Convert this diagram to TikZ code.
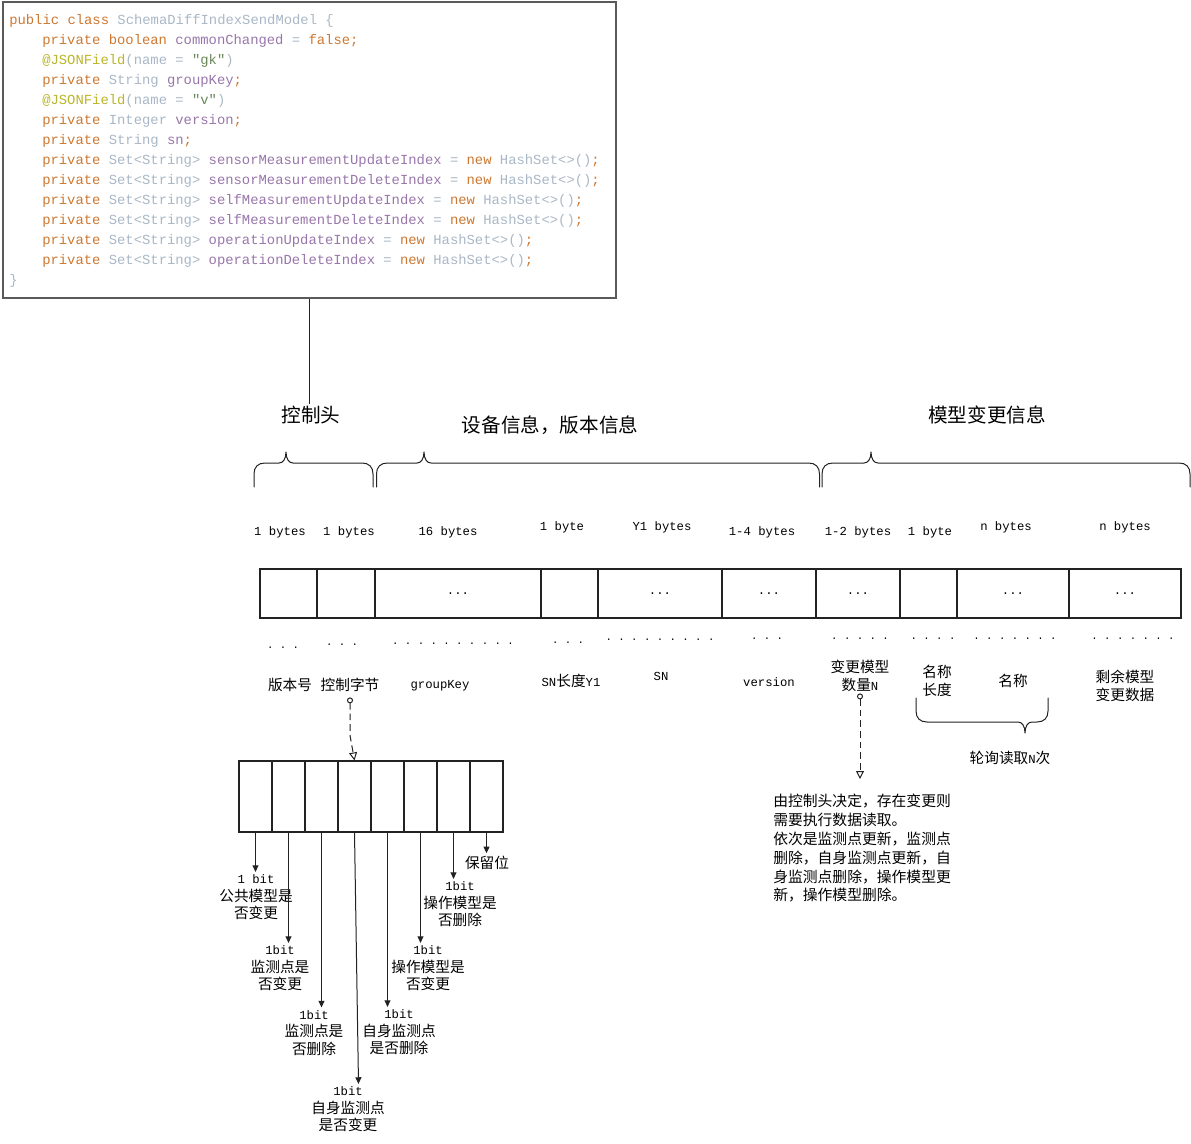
\documentclass[tikz,border=0pt]{standalone}
\usepackage{fontspec}
\setmainfont{Noto Sans CJK SC}
\setmonofont{Liberation Mono}
\usepackage{tikz}
\usetikzlibrary{positioning}
\usetikzlibrary{calc}
\usetikzlibrary{arrows.meta}

\definecolor{kwcol}{HTML}{CC7832}
\definecolor{typecol}{HTML}{A9B7C6}
\definecolor{fieldcol}{HTML}{9876AA}
\definecolor{annocol}{HTML}{BBB529}
\definecolor{strcol}{HTML}{6A8759}
\definecolor{framecol}{HTML}{5A5A5A}
\definecolor{inkcol}{HTML}{222222}

\newcommand{\codekw}[1]{\textcolor{kwcol}{#1}}
\newcommand{\codetype}[1]{\textcolor{typecol}{#1}}
\newcommand{\codefield}[1]{\textcolor{fieldcol}{#1}}
\newcommand{\codeanno}[1]{\textcolor{annocol}{#1}}
\newcommand{\codestr}[1]{\textcolor{strcol}{#1}}

\newcommand{\codefont}{\ttfamily\fontsize{10.4}{12}\selectfont}
\newcommand{\headfont}{\fontsize{14.7}{17}\selectfont}
\newcommand{\sizefont}{\ttfamily\fontsize{9.2}{11}\selectfont}
\newcommand{\dotfont}{\ttfamily\fontsize{8}{10}\selectfont}
\newcommand{\labelfont}{\fontsize{11}{13.5}\selectfont}
\newcommand{\monolabel}{\ttfamily\fontsize{9.2}{13.5}\selectfont}
\newcommand{\bitlabelfont}{\fontsize{11}{13.2}\selectfont}
\newcommand{\descfont}{\fontsize{11.1}{14.1}\selectfont}

\tikzset{
  codebox/.style={draw=framecol, line width=0.9pt, minimum width=613*0.75pt, minimum height=296*0.75pt, inner sep=0},
  codeline/.style={anchor=base west, inner sep=0, font=\codefont},
  header/.style={font=\headfont, inner sep=1pt},
  bytesize/.style={font=\sizefont, inner sep=1pt},
  bytecell/.style={draw=inkcol, line width=0.8pt, minimum width=#1*0.75pt, minimum height=49*0.75pt, inner sep=0, font=\sizefont},
  bitcell/.style={draw=inkcol, line width=0.8pt, minimum width=33*0.75pt, minimum height=71*0.75pt, inner sep=0},
  dotrow/.style={font=\dotfont, inner sep=0},
  fieldname/.style={font=\labelfont, align=center, inner sep=1pt},
  bitlabel/.style={font=\bitlabelfont, align=center, inner sep=2pt},
  desctext/.style={font=\descfont, align=left, inner sep=0},
  plainlink/.style={draw=inkcol, line width=0.75pt},
  bitarrow/.style={draw=inkcol, line width=0.75pt, -{Triangle[length=5pt,width=4.5pt]}},
  linkarrow/.style={draw=inkcol, line width=0.75pt, dash pattern=on 5pt off 3pt, {Circle[open,length=4.5pt]}-{Triangle[open,length=6pt,width=6pt]}},
  bracestyle/.style={draw=inkcol, line width=0.75pt, line cap=round, line join=round},
}

\newcommand{\topbrace}[3]{%
  \draw[bracestyle] (#1,487) -- (#1,474) .. controls (#1,467) and (#1+4,463) .. (#1+11,463)
    -- (#2-7,463) .. controls (#2-3,463) and (#2,459) .. (#2,452)
    .. controls (#2,459) and (#2+3,463) .. (#2+7,463)
    -- (#3-11,463) .. controls (#3-4,463) and (#3,467) .. (#3,474) -- (#3,487);}
\newcommand{\bottombrace}[3]{%
  \draw[bracestyle] (#1,698) -- (#1,711) .. controls (#1,718) and (#1+4,722) .. (#1+11,722)
    -- (#2-7,722) .. controls (#2-3,722) and (#2,726) .. (#2,733)
    .. controls (#2,726) and (#2+3,722) .. (#2+7,722)
    -- (#3-11,722) .. controls (#3-4,722) and (#3,718) .. (#3,711) -- (#3,698);}

\begin{document}
\begin{tikzpicture}[x=0.75pt,y=-0.75pt]
\useasboundingbox (0,0) rectangle (1191,1144);

\node[codebox] (code) at (309.5,150) {};
\node[codeline] (src1) at (9,25) {\codekw{public class} \codetype{SchemaDiffIndexSendModel \{}};
\node[codeline] (src2) at (42,45) {\codekw{private boolean} \codefield{commonChanged} \codetype{=} \codekw{false;}};
\node[codeline] (src3) at (42,65) {\codeanno{@JSONField}\codetype{(name =} \codestr{"gk"}\codetype{)}};
\node[codeline] (src4) at (42,85) {\codekw{private} \codetype{String} \codefield{groupKey}\codekw{;}};
\node[codeline] (src5) at (42,105) {\codeanno{@JSONField}\codetype{(name =} \codestr{"v"}\codetype{)}};
\node[codeline] (src6) at (42,125) {\codekw{private} \codetype{Integer} \codefield{version}\codekw{;}};
\node[codeline] (src7) at (42,145) {\codekw{private} \codetype{String} \codefield{sn}\codekw{;}};
\node[codeline] (src8) at (42,165) {\codekw{private} \codetype{Set<String>} \codefield{sensorMeasurementUpdateIndex} \codetype{=} \codekw{new} \codetype{HashSet<>()}\codekw{;}};
\node[codeline] (src9) at (42,185) {\codekw{private} \codetype{Set<String>} \codefield{sensorMeasurementDeleteIndex} \codetype{=} \codekw{new} \codetype{HashSet<>()}\codekw{;}};
\node[codeline] (src10) at (42,205) {\codekw{private} \codetype{Set<String>} \codefield{selfMeasurementUpdateIndex} \codetype{=} \codekw{new} \codetype{HashSet<>()}\codekw{;}};
\node[codeline] (src11) at (42,225) {\codekw{private} \codetype{Set<String>} \codefield{selfMeasurementDeleteIndex} \codetype{=} \codekw{new} \codetype{HashSet<>()}\codekw{;}};
\node[codeline] (src12) at (42,245) {\codekw{private} \codetype{Set<String>} \codefield{operationUpdateIndex} \codetype{=} \codekw{new} \codetype{HashSet<>()}\codekw{;}};
\node[codeline] (src13) at (42,265) {\codekw{private} \codetype{Set<String>} \codefield{operationDeleteIndex} \codetype{=} \codekw{new} \codetype{HashSet<>()}\codekw{;}};
\node[codeline] (src14) at (9,285) {\codetype{\}}};

\node[header] (hdr1) at (311,415) {控制头};
\node[header] (hdr2) at (550,425) {设备信息，版本信息};
\node[header] (hdr3) at (987,415) {模型变更信息};
\draw[plainlink] (code.south) -- (code.south |- hdr1.north);

\topbrace{254}{286}{373}
\topbrace{376.5}{424}{819.5}
\topbrace{822}{871}{1190}

\node[bytesize] (sz1) at (280,532) {1 bytes};
\node[bytesize] (sz2) at (349,532) {1 bytes};
\node[bytesize] (sz3) at (448,532) {16 bytes};
\node[bytesize] (sz4) at (562,527) {1 byte};
\node[bytesize] (sz5) at (662,527) {Y1 bytes};
\node[bytesize] (sz6) at (762,532) {1-4 bytes};
\node[bytesize] (sz7) at (858,532) {1-2 bytes};
\node[bytesize] (sz8) at (930,532) {1 byte};
\node[bytesize] (sz9) at (1006,527) {n bytes};
\node[bytesize] (sz10) at (1125,527) {n bytes};

\node[bytecell=57] (c1) at (288.5,593.5) {};
\node[bytecell=58] (c2) at (346,593.5) {};
\node[bytecell=166] (c3) at (458,593.5) {...};
\node[bytecell=57] (c4) at (569.5,593.5) {};
\node[bytecell=124] (c5) at (660,593.5) {...};
\node[bytecell=94] (c6) at (769,593.5) {...};
\node[bytecell=84] (c7) at (858,593.5) {...};
\node[bytecell=57] (c8) at (928.5,593.5) {};
\node[bytecell=112] (c9) at (1013,593.5) {...};
\node[bytecell=112] (c10) at (1125,593.5) {...};

\node[dotrow] (dt1) at (283,648) {. . .};
\node[dotrow] (dt2) at (342,645) {. . .};
\node[dotrow] (dt3) at (453,644) {. . . . . . . . . .};
\node[dotrow] (dt4) at (568,643) {. . .};
\node[dotrow] (dt5) at (660,640) {. . . . . . . . .};
\node[dotrow] (dt6) at (767,639) {. . .};
\node[dotrow] (dt7) at (860,639) {. . . . .};
\node[dotrow] (dt8) at (933,639) {. . . .};
\node[dotrow] (dt9) at (1015,639) {. . . . . . .};
\node[dotrow] (dt10) at (1133,639) {. . . . . . .};

\node[fieldname] (nm1) at (290,685) {版本号};
\node[fieldname] (nm2) at (350,685) {控制字节};
\node[fieldname, font=\monolabel] (nm3) at (440,686) {groupKey};
\node[fieldname] (nm4) at (571,681) {{\monolabel SN}长度{\monolabel Y1}};
\node[fieldname, font=\monolabel] (nm5) at (661,676) {SN};
\node[fieldname, font=\monolabel] (nm6) at (769,682) {version};
\node[fieldname] (nm7) at (860,676) {变更模型\\数量{\monolabel N}};
\node[fieldname] (nm8) at (937,680.5) {名称\\长度};
\node[fieldname] (nm9) at (1013,681) {名称};
\node[fieldname] (nm10) at (1125,686) {剩余模型\\变更数据};

\bottombrace{916}{1025}{1048}
\node[fieldname] (poll) at (1010,758) {轮询读取{\monolabel N}次};

\coordinate (cntend) at (860,779);
\draw[linkarrow] (nm7.south) -- (cntend);
\node[desctext, anchor=north west] (desc) at (773,794) {由控制头决定，存在变更则\\需要执行数据读取。\\依次是监测点更新，监测点\\删除，自身监测点更新，自\\身监测点删除，操作模型更\\新，操作模型删除。};

\node[bitcell] (b1) at (255.5,796.5) {};
\node[bitcell] (b2) at (288.5,796.5) {};
\node[bitcell] (b3) at (321.5,796.5) {};
\node[bitcell] (b4) at (354.5,796.5) {};
\node[bitcell] (b5) at (387.5,796.5) {};
\node[bitcell] (b6) at (420.5,796.5) {};
\node[bitcell] (b7) at (453.5,796.5) {};
\node[bitcell] (b8) at (486.5,796.5) {};
\draw[linkarrow, shorten <=3pt] (nm2.south) -- ++(0,42) -- (b4.north);

\node[bitlabel] (lab1) at (256,897.5) {{\monolabel 1 bit}\\公共模型是\\否变更};
\node[bitlabel] (lab2) at (280,968.5) {{\monolabel 1bit}\\监测点是\\否变更};
\node[bitlabel] (lab3) at (314,1033) {{\monolabel 1bit}\\监测点是\\否删除};
\node[bitlabel] (lab4) at (348,1109.5) {{\monolabel 1bit}\\自身监测点\\是否变更};
\node[bitlabel] (lab5) at (399,1032.5) {{\monolabel 1bit}\\自身监测点\\是否删除};
\node[bitlabel] (lab6) at (428,968.5) {{\monolabel 1bit}\\操作模型是\\否变更};
\node[bitlabel] (lab7) at (460,904.5) {{\monolabel 1bit}\\操作模型是\\否删除};
\node[bitlabel] (lab8) at (487,863) {保留位};

\draw[bitarrow] (b1.south) -- (b1.south |- lab1.north);
\draw[bitarrow] (b2.south) -- (b2.south |- lab2.north);
\draw[bitarrow] (b3.south) -- (b3.south |- lab3.north);
\draw[bitarrow] (b4.south) -- ($(b4.south |- lab4.north)+(4,0)$);
\draw[bitarrow] (b5.south) -- (b5.south |- lab5.north);
\draw[bitarrow] (b6.south) -- (b6.south |- lab6.north);
\draw[bitarrow] (b7.south) -- (b7.south |- lab7.north);
\draw[bitarrow] (b8.south) -- (b8.south |- lab8.north);
\end{tikzpicture}
\end{document}
